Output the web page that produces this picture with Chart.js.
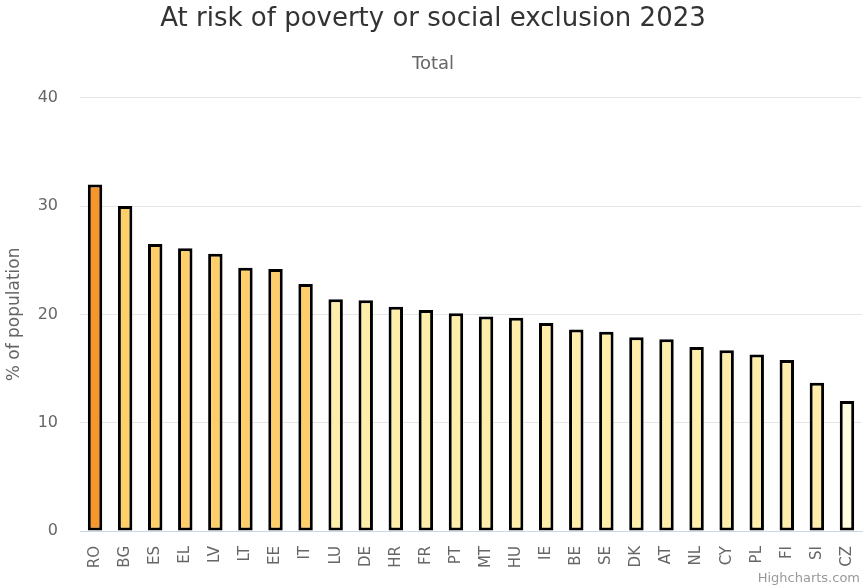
<!DOCTYPE html>
<html>
<head>
<meta charset="utf-8">
<script src="https://cdn.jsdelivr.net/npm/chart.js@4"></script>
<style>
  html, body { margin: 0; padding: 0; background: #fff; }
  #wrap { width: 864px; height: 588px; }
</style>
</head>
<body>
<div id="wrap"><canvas id="aropeChart" width="864" height="588"></canvas></div>
<script>
// AROPE rate 2023, total population, by country
const countries = ['RO','BG','ES','EL','LV','LT','EE','IT','LU','DE','HR','FR','PT','MT','HU','IE','BE','SE','DK','AT','NL','CY','PL','FI','SI','CZ'];
const rates = [32.0, 30.0, 26.5, 26.1, 25.6, 24.3, 24.2, 22.8, 21.4, 21.3, 20.7, 20.4, 20.1, 19.8, 19.7, 19.2, 18.6, 18.4, 17.9, 17.7, 17.0, 16.7, 16.3, 15.8, 13.7, 12.0];
const yTicks = [0, 10, 20, 30, 40];

function colourFor(v) {
    if (v > 30) return '#f7962b';
    if (v > 22) return '#fecf68';
    if (v > 13) return '#ffedaa';
    return '#ffffdf';
}

const font = "'DejaVu Sans', sans-serif";

const credits = {
    id: 'credits',
    afterDraw(chart) {
        const c = chart.ctx;
        c.save();
        c.font = '13px ' + font;
        c.fillStyle = '#999999';
        c.textAlign = 'right';
        c.textBaseline = 'alphabetic';
        c.fillText('Highcharts.com', 860, 582);
        c.restore();
    }
};

document.addEventListener('DOMContentLoaded', () => {
    var ctx = document.getElementById('aropeChart');
    var options = {
        type: 'bar',
        data: {
            labels: countries,
            datasets: [{
                label: 'Total',
                data: rates,
                backgroundColor: rates.map(colourFor),
                borderColor: '#000000',
                borderWidth: 3,
                borderSkipped: false,
                categoryPercentage: 1,
                barPercentage: 0.48
            }]
        },
        options: {
            responsive: false,
            animation: false,
            layout: { padding: { left: 4, right: 2, top: 0, bottom: 0 } },
            scales: {
                x: {
                    grid: { display: false, drawTicks: false },
                    border: { color: '#ccd6eb', width: 1 },
                    ticks: {
                        color: '#666666',
                        font: { family: font, size: 15 },
                        minRotation: 90,
                        maxRotation: 90,
                        padding: 15,
                        autoSkip: false
                    },
                    afterFit: (axis) => {
                        axis.paddingLeft = 0;
                        axis.paddingRight = 0;
                        axis.height = 57;
                    }
                },
                y: {
                    min: 0,
                    max: 40,
                    afterBuildTicks: (axis) => { axis.ticks = yTicks.map(v => ({ value: v })); },
                    afterFit: (axis) => {
                        axis.paddingTop = 0;
                        axis.paddingBottom = 0;
                        axis.width = 76;
                    },
                    grid: { color: '#e6e6e6', drawTicks: false },
                    border: { display: false },
                    ticks: {
                        color: '#666666',
                        font: { family: font, size: 16 },
                        padding: 22
                    },
                    title: {
                        display: true,
                        text: '% of population',
                        color: '#666666',
                        font: { family: font, size: 17 },
                        padding: { top: 0, bottom: 6 }
                    }
                }
            },
            plugins: {
                legend: { display: false },
                tooltip: { enabled: false },
                title: {
                    display: true,
                    text: 'At risk of poverty or social exclusion 2023',
                    color: '#333333',
                    font: { family: font, size: 26, weight: 'normal' },
                    padding: { top: 4, bottom: 18 }
                },
                subtitle: {
                    display: true,
                    text: 'Total',
                    color: '#666666',
                    font: { family: font, size: 18, weight: 'normal' },
                    padding: { top: 0, bottom: 23 }
                }
            }
        },
        plugins: [credits]
    };

    let aropeChart = new Chart(ctx, options);
});
</script>
</body>
</html>
